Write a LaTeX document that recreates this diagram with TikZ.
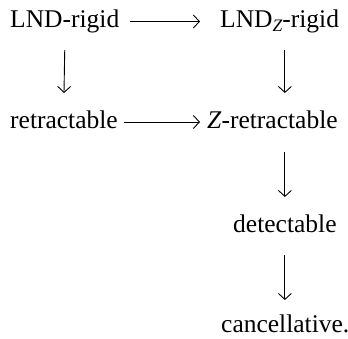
\documentclass[tikz,border=0pt]{standalone}
\usepackage{fontspec}
\setmainfont{Liberation Serif}
\usetikzlibrary{arrows.meta}
\begin{document}
\begin{tikzpicture}[x=1pt,y=-1pt,
  lbl/.style={anchor=base west,inner sep=0pt,font=\fontsize{25.5}{30}\selectfont},
  arr/.style={line width=0.9pt,-{Straight Barb[length=6pt,width=13pt,line width=0.9pt]}}]
\useasboundingbox (0,0) rectangle (348,338);
\node[lbl] (a) at (10,27) {LND-rigid};
\node[lbl] (b) at (220,27) {LND\raisebox{-4.5pt}{\fontsize{17.5}{20}\selectfont\itshape Z}-rigid};
\node[lbl] (c) at (10,128) {retractable};
\node[lbl] (d) at (207,128) {\textit{Z}-retractable};
\node[lbl] (e) at (233,232) {detectable};
\node[lbl] (f) at (221,332) {cancellative.};
\draw[arr] ([shift={(11pt,5.5pt)}]a.base east) -- ([shift={(-20pt,5.5pt)}]b.base west);
\draw[arr] ([shift={(6pt,6pt)}]c.base east) -- ([shift={(-7pt,6pt)}]d.base west);
\draw[arr] ([yshift=-23pt]a.base) -- ([yshift=35pt]c.base);
\draw[arr] ([yshift=-23pt]e.base |- b.base) -- ([yshift=35pt]e.base |- d.base);
\draw[arr] ([yshift=-24pt]e.base |- d.base) -- ([yshift=35pt]e.base);
\draw[arr] ([yshift=-23pt]e.base) -- ([yshift=32pt]f.base -| e.base);
\end{tikzpicture}
\end{document}
